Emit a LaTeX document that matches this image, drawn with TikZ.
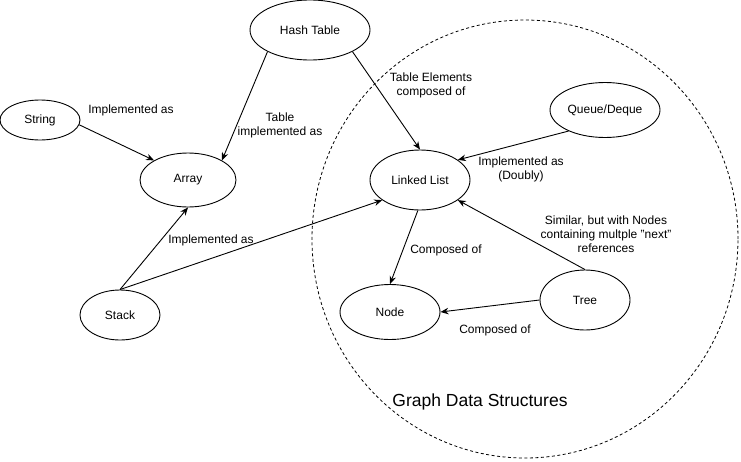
\documentclass[tikz,border=0pt]{standalone}
\usepackage{fontspec}
\setmainfont{Liberation Sans}
\usetikzlibrary{arrows.meta, shapes.geometric}

\begin{document}
\begin{tikzpicture}[x=1pt, y=-1pt,
	ds/.style={ellipse, draw, line width=0.9pt, inner sep=0pt, font=\fontsize{12}{14}\selectfont},
	lbl/.style={align=center, font=\fontsize{12}{14}\selectfont},
	arr/.style={line width=0.9pt, -{Stealth[length=8pt, width=6.5pt]}}]
	\useasboundingbox (0,0) rectangle (741,461);
	\draw [line width=0.8pt, dash pattern=on 3pt off 2.5pt] (525,239) ellipse [x radius=213pt, y radius=219pt];
	\node (HT) at (310,30) [ds, minimum width=120pt, minimum height=60pt] {Hash Table};
	\node (STR) at (40,120) [ds, minimum width=80pt, minimum height=40pt] {String};
	\node (ARR) at (188,180) [ds, minimum width=96pt, minimum height=54pt] {Array};
	\node (STK) at (120,315) [ds, minimum width=80pt, minimum height=50pt] {Stack};
	\node (LL) at (420,180) [ds, minimum width=100pt, minimum height=60pt] {Linked List};
	\node (QD) at (605,110) [ds, minimum width=110pt, minimum height=55pt] {Queue/Deque};
	\node (ND) at (390,312) [ds, minimum width=100pt, minimum height=55pt] {Node};
	\node (TR) at (585,300) [ds, minimum width=90pt, minimum height=60pt] {Tree};
	\draw [arr] (STR.-7) -- (ARR.150);
	\draw [arr] (HT.207) -- (ARR.30);
	\draw [arr] (HT.333) -- (LL.90);
	\draw [arr] (QD.210) -- (LL.28);
	\draw [arr] (STK.90) -- (ARR.270);
	\draw [arr] (STK.90) -- (LL.208);
	\draw [arr] (LL.266) -- (ND.90);
	\draw [arr] (TR.90) -- (LL.332);
	\draw [arr] (TR.180) -- (ND.0);
	\node (L1) at (131,110) [lbl] {Implemented as};
	\node (L2) at (280,125) [lbl] {Table\\implemented as};
	\node (L3) at (431,85) [lbl] {Table Elements\\composed of};
	\node (L4) at (521,169) [lbl] {Implemented as\\(Doubly)};
	\node (L5) at (211,240) [lbl] {Implemented as};
	\node (L6) at (446,250) [lbl] {Composed of};
	\node (L7) at (606,234) [lbl] {Similar, but with Nodes\\containing multple "next"\\references};
	\node (L8) at (495,330) [lbl] {Composed of};
	\node (GDS) at (480,402) [font=\fontsize{17.5}{20}\selectfont] {Graph Data Structures};
\end{tikzpicture}
\end{document}
